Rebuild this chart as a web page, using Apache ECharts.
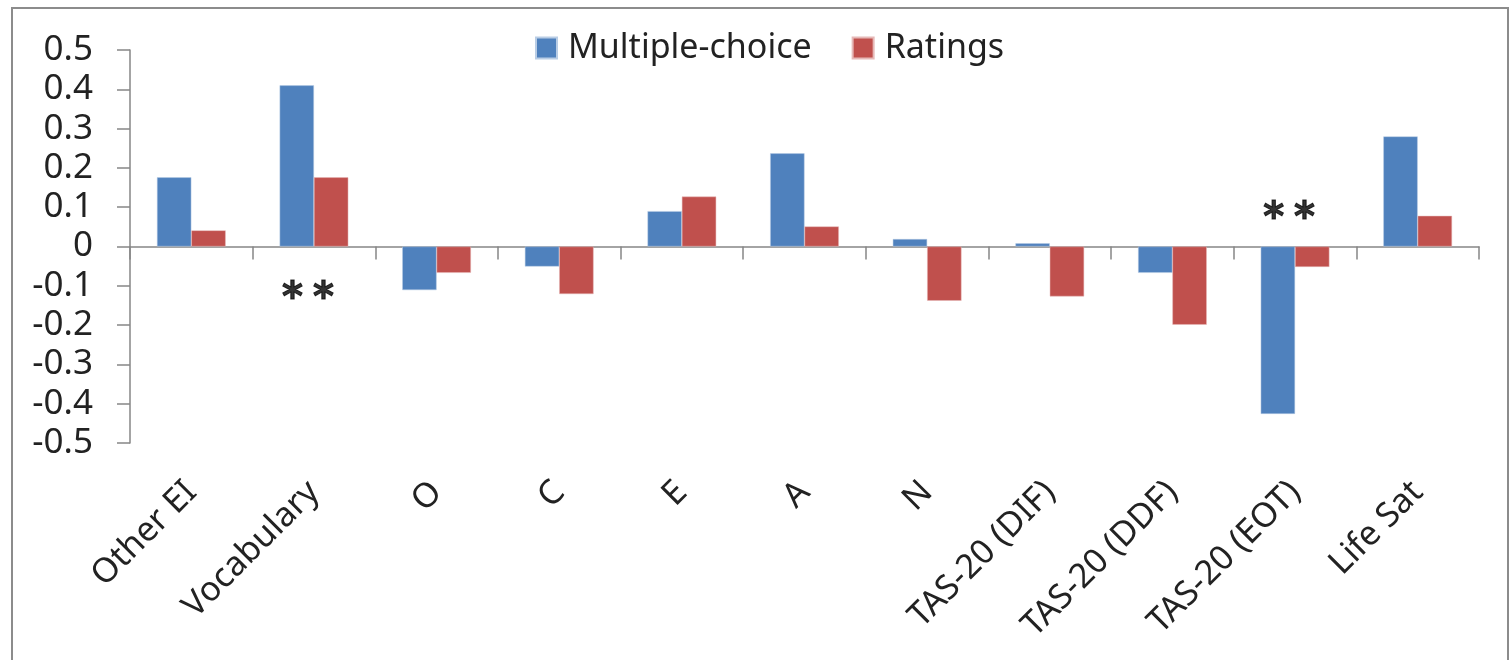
<!DOCTYPE html>
<html>
<head>
<meta charset="utf-8">
<script src="https://cdn.jsdelivr.net/npm/echarts@6/dist/echarts.min.js"></script>
<style>
  html, body { margin: 0; padding: 0; background: #fff; }
  #chart { width: 1512px; height: 660px; }
</style>
</head>
<body>
<div id="chart"></div>
<script>
const categories = ['Other EI', 'Vocabulary', 'O', 'C', 'E', 'A', 'N',
  'TAS-20 (DIF)', 'TAS-20 (DDF)', 'TAS-20 (EOT)', 'Life Sat']
const multipleChoice = [0.176, 0.41, -0.111, -0.051, 0.09, 0.237, 0.019, 0.008, -0.067, -0.426, 0.28]
const ratings = [0.041, 0.176, -0.067, -0.121, 0.127, 0.051, -0.138, -0.127, -0.199, -0.052, 0.078]
const yTicks = [-0.5, -0.4, -0.3, -0.2, -0.1, 0, 0.1, 0.2, 0.3, 0.4, 0.5]
// significance markers: [category, value]
const starNotes = [['Vocabulary', -0.111], ['TAS-20 (EOT)', 0.091]]

const font = 'Noto Sans'
const axisGrey = '#868686'

const chart = echarts.init(document.getElementById('chart'))

chart.setOption({
  animation: false,
  textStyle: { fontFamily: font },
  graphic: [{
    type: 'rect',
    shape: { x: 12, y: 8, width: 1496, height: 700 },
    style: { fill: 'none', stroke: '#8c8c8c', lineWidth: 2 }
  }],
  legend: {
    top: 26,
    left: 530,
    itemWidth: 21,
    itemHeight: 21,
    itemGap: 40,
    icon: 'rect',
    textStyle: { fontSize: 34, color: '#222', fontFamily: font, padding: [0, 0, 0, 6] },
    data: ['Multiple-choice', 'Ratings']
  },
  grid: { left: 130, right: 33, top: 50, bottom: 217 },
  xAxis: [{
    type: 'category',
    data: categories,
    axisLine: { onZero: true, lineStyle: { color: axisGrey, width: 1.5 } },
    axisTick: { show: true, length: 13, lineStyle: { color: axisGrey, width: 1.5 } },
    axisLabel: { show: false },
    splitLine: { show: false }
  }, {
    type: 'category',
    data: categories,
    position: 'bottom',
    axisLine: { show: false, onZero: false },
    axisTick: { show: false },
    axisLabel: {
      interval: 0,
      rotate: 45,
      margin: 44,
      fontSize: 34,
      color: '#222',
      fontFamily: font
    }
  }],
  yAxis: {
    type: 'value',
    min: yTicks[0],
    max: yTicks[yTicks.length - 1],
    interval: 0.1,
    axisLine: { show: true, lineStyle: { color: axisGrey, width: 1.5 } },
    axisTick: { show: true, inside: false, length: 13, lineStyle: { color: axisGrey, width: 1.5 } },
    splitLine: { show: false },
    axisLabel: {
      margin: 37,
      fontSize: 35,
      color: '#222',
      fontFamily: font,
      formatter: v => String(Math.round(v * 10) / 10)
    }
  },
  series: [{
    name: 'Multiple-choice',
    type: 'bar',
    data: multipleChoice,
    barGap: '0%',
    barCategoryGap: '44%',
    itemStyle: { color: '#4F81BD', borderColor: '#b9cde5', borderWidth: 0.5 }
  }, {
    name: 'Ratings',
    type: 'bar',
    data: ratings,
    itemStyle: { color: '#C0504D', borderColor: '#e6b9b8', borderWidth: 0.5 }
  }, {
    name: 'stars',
    type: 'scatter',
    data: starNotes,
    symbolSize: 0,
    silent: true,
    label: {
      show: true,
      position: 'inside',
      formatter: '*\u2005*',
      fontSize: 40,
      fontWeight: 'bold',
      color: '#000',
      fontFamily: 'DejaVu Sans',
      textBorderColor: '#000',
      textBorderWidth: 1,
      offset: [-6, 9]
    }
  }]
})
</script>
</body>
</html>
